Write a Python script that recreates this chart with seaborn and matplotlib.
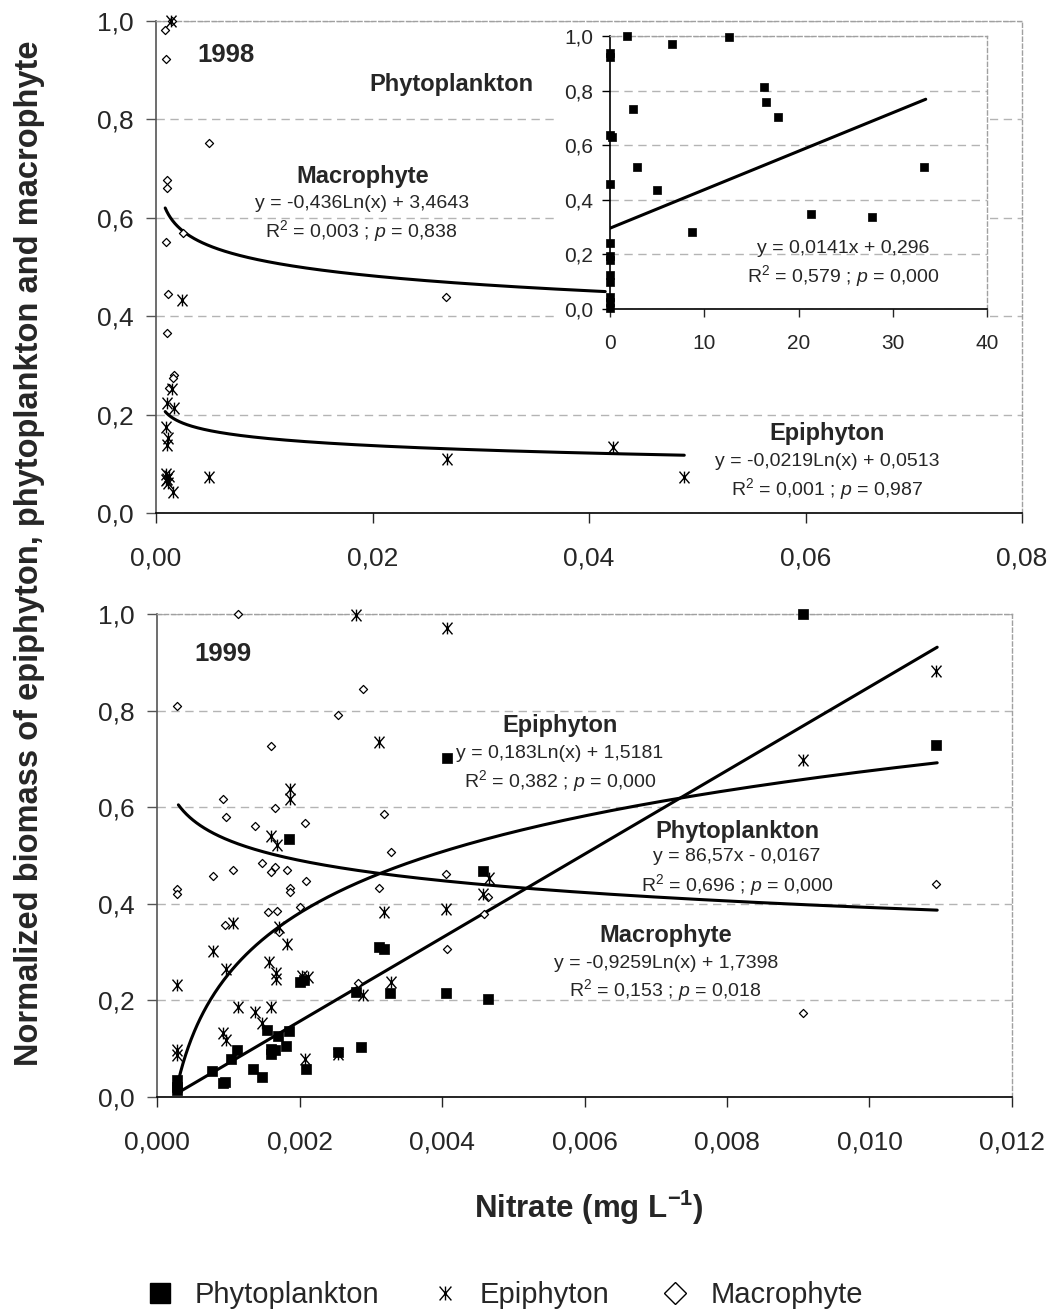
import numpy as np
import pandas as pd
import matplotlib
matplotlib.use("Agg")
import matplotlib.pyplot as plt
from matplotlib.path import Path
from matplotlib.patches import Rectangle
from matplotlib.lines import Line2D
from matplotlib.ticker import FuncFormatter, MultipleLocator
import seaborn as sns

# ---------------- data ----------------
# 1998, main panel (nitrate mg/L)
epi98_x = [0.0014, 0.0024, 0.0015, 0.0010, 0.0017, 0.0009, 0.0011, 0.0010, 0.0009,
           0.0010, 0.0012, 0.0009, 0.0011, 0.0016, 0.0049, 0.0269, 0.0422, 0.0488]
epi98_y = [1.000, 0.433, 0.253, 0.223, 0.213, 0.175, 0.152, 0.138, 0.080,
           0.070, 0.075, 0.067, 0.060, 0.043, 0.074, 0.109, 0.135, 0.074]

mac98_x = [0.0008, 0.0015, 0.0009, 0.0049, 0.0010, 0.0010, 0.0025, 0.0009, 0.0011,
           0.0010, 0.0017, 0.0016, 0.0012, 0.0268]
mac98_y = [0.982, 1.000, 0.923, 0.753, 0.677, 0.660, 0.569, 0.550, 0.445,
           0.365, 0.280, 0.274, 0.254, 0.440]

# 1998, inset (phytoplankton)
phy98_x = [1.84, 6.55, 12.66, 0, 0, 2.47, 0, 0.2, 2.83, 0, 4.95, 8.66, 16.37, 16.55,
           17.79, 21.33, 27.8, 33.28, 0, 0, 0, 0, 0, 0, 0, 0]
phy98_y = [1.000, 0.970, 0.997, 0.937, 0.924, 0.731, 0.639, 0.631, 0.519, 0.458, 0.436,
           0.281, 0.813, 0.758, 0.702, 0.347, 0.336, 0.519, 0.242, 0.195, 0.178, 0.125,
           0.100, 0.045, 0.027, 0.005]

# 1999
phy99_x = [0.00185, 0.00311, 0.00318, 0.00200, 0.00206, 0.00280, 0.00327, 0.00155,
           0.00185, 0.00170, 0.00112, 0.00160, 0.00166, 0.00160, 0.00181, 0.00104,
           0.00077, 0.00135, 0.00147, 0.00092, 0.00095, 0.000285, 0.000285, 0.000285,
           0.00209, 0.00254, 0.00287, 0.00407, 0.00458, 0.00405, 0.00464, 0.00906, 0.01093]
phy99_y = [0.534, 0.311, 0.306, 0.239, 0.242, 0.218, 0.215, 0.139,
           0.137, 0.126, 0.097, 0.099, 0.097, 0.090, 0.106, 0.078,
           0.054, 0.059, 0.041, 0.028, 0.032, 0.035, 0.021, 0.015,
           0.059, 0.094, 0.104, 0.701, 0.468, 0.216, 0.202, 1.000, 0.729]

epi99_x = [0.0028, 0.00186, 0.00186, 0.0016, 0.00168, 0.00106, 0.00078, 0.00097,
           0.00171, 0.00183, 0.00157, 0.00167, 0.00167, 0.000285, 0.00204, 0.00212,
           0.00113, 0.0016, 0.00137, 0.00147, 0.00093, 0.00097, 0.000285, 0.000285,
           0.00208, 0.00254, 0.00289, 0.00318, 0.00329, 0.00407, 0.00312, 0.00466,
           0.00458, 0.00406, 0.00907, 0.01094]
epi99_y = [0.998, 0.637, 0.618, 0.540, 0.522, 0.361, 0.303, 0.264,
           0.351, 0.316, 0.279, 0.256, 0.244, 0.232, 0.250, 0.249,
           0.187, 0.187, 0.177, 0.153, 0.133, 0.118, 0.097, 0.087,
           0.078, 0.090, 0.211, 0.384, 0.239, 0.970, 0.734, 0.453,
           0.420, 0.389, 0.697, 0.882]

mac99_x = [0.00114, 0.000285, 0.0016, 0.00254, 0.00289, 0.00092, 0.00097, 0.00165,
           0.00137, 0.00208, 0.00078, 0.00106, 0.00148, 0.0016, 0.00165, 0.00182,
           0.00209, 0.000285, 0.000285, 0.00187, 0.00187, 0.00156, 0.00168, 0.00201,
           0.00096, 0.00171, 0.00312, 0.00329, 0.00282, 0.00318, 0.00406, 0.00465,
           0.00459, 0.00407, 0.00906, 0.01094]
mac99_y = [1.000, 0.810, 0.727, 0.791, 0.844, 0.618, 0.580, 0.599,
           0.562, 0.568, 0.458, 0.470, 0.484, 0.466, 0.477, 0.470,
           0.448, 0.430, 0.420, 0.432, 0.424, 0.384, 0.386, 0.394,
           0.356, 0.342, 0.432, 0.508, 0.237, 0.586, 0.461, 0.415,
           0.379, 0.306, 0.173, 0.441]

# trendline coefficients (as drawn) and x ranges
mac98_fit = (-0.0437, 0.311, 0.00085, 0.0415)      # a*ln(x)+b
epi98_fit = (-0.0219, 0.0513, 0.00085, 0.0488)
phy98_fit = (0.0141, 0.296, 0.0, 33.5)             # a*x+b
phy99_fit = (86.57, -0.0167, 0.0003, 0.01095)
epi99_fit = (0.183, 1.5181, 0.0003, 0.01095)
mac99_fit = (-0.0606, 0.1133, 0.0003, 0.01095)

# ---------------- style ----------------
sns.set_style("white")
plt.rcParams["font.family"] = ["Liberation Sans", "DejaVu Sans"]
plt.rcParams["mathtext.fontset"] = "custom"
plt.rcParams["mathtext.rm"] = "Liberation Sans"
plt.rcParams["mathtext.it"] = "Liberation Sans:italic"
plt.rcParams["mathtext.bf"] = "Liberation Sans:bold"

W, H = 1054, 1313
fig = plt.figure(figsize=(W / 100, H / 100), dpi=100)

star = Path([(0, -1), (0, 1), (-0.85, -1), (0.85, 1), (-0.85, 1), (0.85, -1)],
            [Path.MOVETO, Path.LINETO, Path.MOVETO, Path.LINETO, Path.MOVETO, Path.LINETO])

GRID = "#b4b4b4"


def px_axes(l, t, r, b):
    return fig.add_axes([l / W, 1 - b / H, (r - l) / W, (b - t) / H])


def comma(fmt):
    return FuncFormatter(lambda v, p: fmt.format(v).replace(".", ","))


def style_axes(ax, labelsize, xpad, ypad, ticklen):
    ax.set_axisbelow(True)
    ax.yaxis.grid(True, color=GRID, linestyle=(0, (6, 4)), linewidth=1)
    ax.xaxis.grid(False)
    for s in ("top", "right"):
        ax.spines[s].set_color("#a0a0a0")
        ax.spines[s].set_linestyle((0, (3, 2)))
        ax.spines[s].set_linewidth(1)
    ax.spines["left"].set_color("#555555")
    ax.spines["bottom"].set_color("black")
    for s in ("left", "bottom"):
        ax.spines[s].set_linewidth(1.2)
    ax.tick_params(axis="both", direction="out", length=ticklen, width=1,
                   labelsize=labelsize, left=True, bottom=True)
    ax.tick_params(axis="x", pad=xpad)
    ax.tick_params(axis="y", pad=ypad, color="#555555")
    ax.set_xlabel("")
    ax.set_ylabel("")


def points(ax, x, y, kind, size_scale=1.0):
    if kind == "phy":
        sns.scatterplot(x=x, y=y, ax=ax, marker="s", s=42 * size_scale, color="black",
                        edgecolor="black", linewidth=0.5, clip_on=False, zorder=3)
    elif kind == "epi":
        sns.scatterplot(x=x, y=y, ax=ax, marker=star, s=72, color="black",
                        edgecolor="black", linewidth=1.0, clip_on=False, zorder=3)
    else:
        sns.scatterplot(x=x, y=y, ax=ax, marker="D", s=17, color="black",
                        facecolor="white", edgecolor="black", linewidth=0.9,
                        clip_on=False, zorder=3)


def log_trend(ax, fit):
    a, b, x0, x1 = fit
    xs = np.geomspace(x0, x1, 200)
    sns.lineplot(x=xs, y=a * np.log(xs) + b, ax=ax, color="black", linewidth=2.2,
                 estimator=None, sort=False, zorder=2)


def lin_trend(ax, fit):
    a, b, x0, x1 = fit
    xs = np.array([x0, x1])
    sns.lineplot(x=xs, y=a * xs + b, ax=ax, color="black", linewidth=2.2,
                 estimator=None, sort=False, zorder=2)


HEAD = dict(fontsize=17, fontweight="bold", ha="center", va="center")
EQ = dict(fontsize=14, ha="center", va="center")

# ---------------- 1998 main ----------------
ax1 = px_axes(156, 21, 1022, 513)
points(ax1, mac98_x, mac98_y, "mac")
points(ax1, epi98_x, epi98_y, "epi")
log_trend(ax1, mac98_fit)
log_trend(ax1, epi98_fit)
ax1.set_xlim(0, 0.08)
ax1.set_ylim(0, 1)
ax1.xaxis.set_major_locator(MultipleLocator(0.02))
ax1.yaxis.set_major_locator(MultipleLocator(0.2))
ax1.xaxis.set_major_formatter(comma("{:.2f}"))
ax1.yaxis.set_major_formatter(comma("{:.1f}"))
style_axes(ax1, 19, 17, 9, 7)
# white area behind the inset
ax1.add_patch(Rectangle((557 / W, 1 - 350 / H), (990 - 557) / W, (350 - 25) / H,
                        transform=fig.transFigure, facecolor="white",
                        edgecolor="none", zorder=0.8))
ax1.text(0.0065, 0.931, "1998", fontsize=18.5, fontweight="bold", ha="center", va="center")
ax1.text(0.0191, 0.683, "Macrophyte", **HEAD)
ax1.text(0.0190, 0.630, "y = -0,436Ln(x) + 3,4643", **EQ)
ax1.text(0.0190, 0.574, r"R$^2$ = 0,003 ; $p$ = 0,838", **EQ)
ax1.text(0.0620, 0.162, "Epiphyton", **HEAD)
ax1.text(0.0620, 0.104, "y = -0,0219Ln(x) + 0,0513", **EQ)
ax1.text(0.0620, 0.048, r"R$^2$ = 0,001 ; $p$ = 0,987", **EQ)
ax1.text(0.0273, 0.870, "Phytoplankton", **HEAD)

# ---------------- 1998 inset ----------------
axi = px_axes(610, 36, 987, 309)
axi.set_facecolor("white")
points(axi, phy98_x, phy98_y, "phy", 0.8)
lin_trend(axi, phy98_fit)
axi.set_xlim(0, 40)
axi.set_ylim(0, 1)
axi.xaxis.set_major_locator(MultipleLocator(10))
axi.yaxis.set_major_locator(MultipleLocator(0.2))
axi.xaxis.set_major_formatter(comma("{:.0f}"))
axi.yaxis.set_major_formatter(comma("{:.1f}"))
style_axes(axi, 15, 12, 6, 6)
axi.spines["left"].set_color("black")
axi.tick_params(axis="y", color="black")
axi.text(24.7, 0.223, "y = 0,0141x + 0,296", **EQ)
axi.text(24.7, 0.121, r"R$^2$ = 0,579 ; $p$ = 0,000", **EQ)

# ---------------- 1999 ----------------
ax2 = px_axes(157, 614, 1012, 1097)
points(ax2, mac99_x, mac99_y, "mac")
points(ax2, epi99_x, epi99_y, "epi")
points(ax2, phy99_x, phy99_y, "phy")
lin_trend(ax2, phy99_fit)
log_trend(ax2, epi99_fit)
log_trend(ax2, mac99_fit)
ax2.set_xlim(0, 0.012)
ax2.set_ylim(0, 1)
ax2.xaxis.set_major_locator(MultipleLocator(0.002))
ax2.yaxis.set_major_locator(MultipleLocator(0.2))
ax2.xaxis.set_major_formatter(comma("{:.3f}"))
ax2.yaxis.set_major_formatter(comma("{:.1f}"))
style_axes(ax2, 19, 17, 9, 7)
ax2.text(0.000932, 0.917, "1999", fontsize=18.5, fontweight="bold", ha="center", va="center")
ax2.text(0.005656, 0.770, "Epiphyton", **HEAD)
ax2.text(0.005656, 0.712, "y = 0,183Ln(x) + 1,5181", **EQ)
ax2.text(0.005656, 0.655, r"R$^2$ = 0,382 ; $p$ = 0,000", **EQ)
ax2.text(0.00814, 0.549, "Phytoplankton", **HEAD)
ax2.text(0.00814, 0.4975, "y = 86,57x - 0,0167", **EQ)
ax2.text(0.00814, 0.439, r"R$^2$ = 0,696 ; $p$ = 0,000", **EQ)
ax2.text(0.00714, 0.335, "Macrophyte", **HEAD)
ax2.text(0.00714, 0.277, "y = -0,9259Ln(x) + 1,7398", **EQ)
ax2.text(0.00714, 0.2215, r"R$^2$ = 0,153 ; $p$ = 0,018", **EQ)

# ---------------- shared labels and legend ----------------
fig.text(30 / W, 1 - 553 / H, "Normalized biomass of epiphyton, phytoplankton and macrophyte",
         rotation=90, fontsize=23.5, fontweight="bold", ha="center", va="center")
fig.text(589 / W, 1 - 1208 / H, r"Nitrate (mg L$^{\mathbf{-1}}$)",
         fontsize=22.5, fontweight="bold", ha="center", va="center")

handles = [
    Line2D([], [], linestyle="none", marker="s", markersize=15, color="black"),
    Line2D([], [], linestyle="none", marker=star, markersize=10, color="black",
           markeredgewidth=1.0),
    Line2D([], [], linestyle="none", marker="D", markersize=11, markerfacecolor="white",
           markeredgecolor="black", markeredgewidth=1.0),
]
fig.legend(handles, ["Phytoplankton", "Epiphyton", "Macrophyte"], loc="center",
           bbox_to_anchor=(0.478, 1 - 1295 / H), ncol=3, frameon=False, fontsize=21,
           handlelength=1.0, handletextpad=0.7, columnspacing=1.75)

fig.savefig("out.png", dpi=100)
